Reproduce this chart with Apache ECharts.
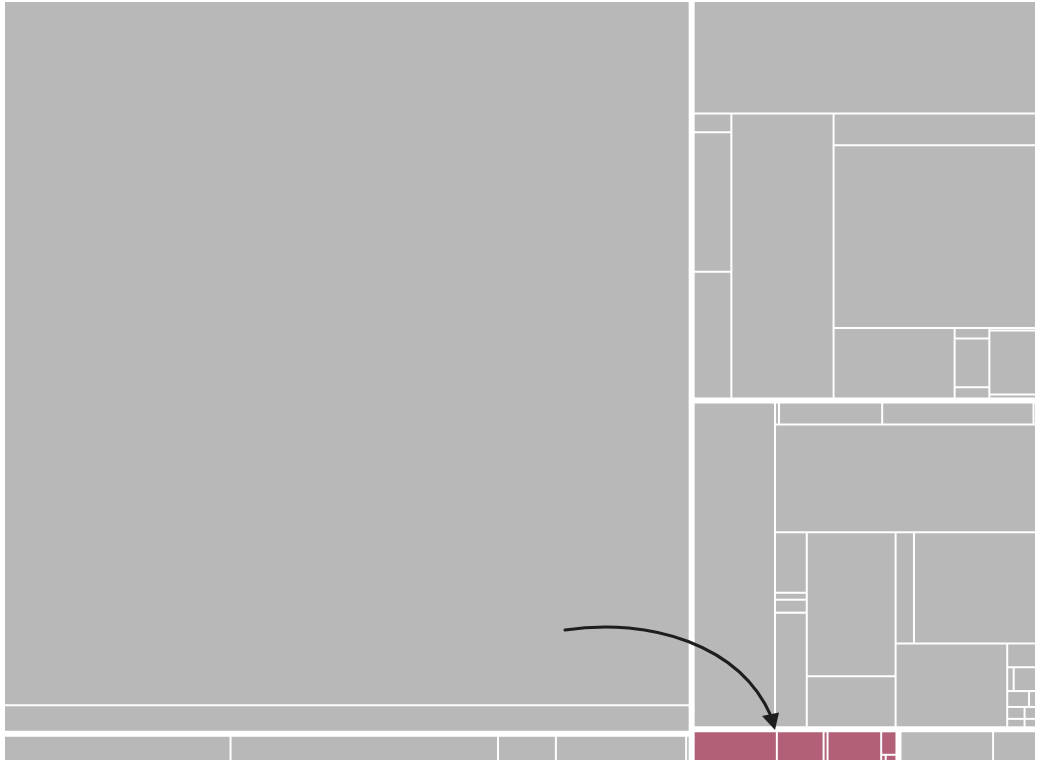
<!DOCTYPE html>
<html>
<head>
<meta charset="utf-8">
<script src="https://cdn.jsdelivr.net/npm/echarts@6/dist/echarts.min.js"></script>
<style>
  html, body { margin: 0; padding: 0; background: #ffffff; }
  #chart { width: 1051px; height: 770px; }
</style>
</head>
<body>
<div id="chart"></div>
<script>
// ---- values (areas) ----
const mainBlock     = [483992, 18206];
const lowerStrip    = [6583, 7772, 1682, 3785, 102];
const topBanner     = [38985];
const stackA        = [722, 5320, 4845];
const tallCell      = [29510];
const stackC        = [6528, 37434];
const cornerRow     = [8662];
const cornerStackD  = [368, 1715, 403];
const cornerStackE  = [118, 3032, 188];
const middleSide    = [26814];
const thinRow       = [88, 2288, 3355, 55];
const middleBanner  = [28536];
const stackF        = [1952, 224, 416, 3696];
const stackG        = [12978, 4609];
const pairH         = [2072, 13776];
const blockI        = [9506];
const tinyCells     = [696, 156, 540, 352, 112, 210, 149, 138, 98];
const highlighted   = [2831, 1591, 134, 1826, 411, 32, 77];
const bottomGray    = [3183, 1474];

const GRAY = '#b8b8b8';
const PINK = '#b25f78';

function leaf(v, color) {
  return { value: v, itemStyle: { color: color || GRAY, borderWidth: 1 } };
}
function leaves(arr, color) { return arr.map(v => leaf(v, color)); }
function group(children, gap) {
  return { children: children, itemStyle: { borderWidth: 0, gapWidth: gap || 0 } };
}

// left half
const L = group([
  group(leaves(mainBlock)),
  group(leaves(lowerStrip))
], 4);

// right top
const RT = group([
  leaf(topBanner[0]),
  group([
    group(leaves(stackA)),
    group([
      leaf(tallCell[0]),
      group([
        ...leaves(stackC),
        group([
          leaf(cornerRow[0]),
          group(leaves(cornerStackD)),
          group(leaves(cornerStackE))
        ])
      ])
    ])
  ])
]);

// right middle
const col1 = group([
  leaf(stackF[0]),
  group([leaf(stackF[1]), group([leaf(stackF[2]), leaf(stackF[3])])])
]);
const col2 = group(leaves(stackG));
const smallCol = group([
  leaf(tinyCells[0]),
  group([
    group([leaf(tinyCells[1]), leaf(tinyCells[2])]),
    group([
      group([leaf(tinyCells[3]), leaf(tinyCells[4])]),
      group([
        group([leaf(tinyCells[5]), leaf(tinyCells[6])]),
        group([leaf(tinyCells[7]), leaf(tinyCells[8])])
      ])
    ])
  ])
]);
const col3 = group([
  group(leaves(pairH)),
  group([leaf(blockI[0]), smallCol])
]);
const RM = group([
  leaf(middleSide[0]),
  group([
    group(leaves(thinRow)),
    group([
      leaf(middleBanner[0]),
      group([col1, group([col2, col3])])
    ])
  ])
]);

// right bottom
const RB = group([
  group([
    ...leaves(highlighted.slice(0, 4), PINK),
    group([leaf(highlighted[4], PINK), group(leaves(highlighted.slice(5), PINK))])
  ]),
  group(leaves(bottomGray))
], 4);

const R = group([RT, RM, RB], 4);

const chart = echarts.init(document.getElementById('chart'));
chart.setOption({
  animation: false,
  backgroundColor: '#ffffff',
  series: [{
    type: 'treemap',
    left: 4, top: 1, width: 1032, height: 760,
    sort: false,
    squareRatio: 1,
    roam: false,
    nodeClick: false,
    breadcrumb: { show: false },
    label: { show: false },
    upperLabel: { show: false },
    itemStyle: { borderWidth: 0, gapWidth: 0, borderColor: '#ffffff' },
    levels: [{ itemStyle: { borderWidth: 0, gapWidth: 4, borderColor: '#ffffff' } }],
    emphasis: { disabled: true },
    data: [L, R]
  }],
  graphic: [
    {
      type: 'bezierCurve', z: 100,
      shape: { x1: 565, y1: 630, cpx1: 650, cpy1: 617, cpx2: 740, cpy2: 645, x2: 771, y2: 716 },
      style: { stroke: '#1e1e1e', lineWidth: 3, fill: null, lineCap: 'round' }
    },
    {
      type: 'polygon', z: 100,
      shape: { points: [[762, 716], [779, 712.5], [775, 730]] },
      style: { fill: '#1e1e1e' }
    }
  ]
});
</script>
</body>
</html>
